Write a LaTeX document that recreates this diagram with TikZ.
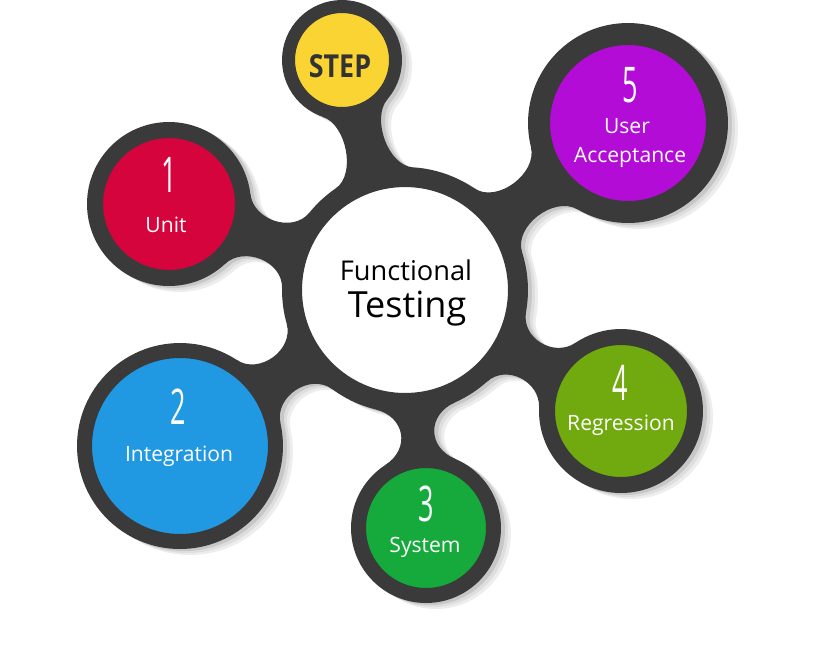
\documentclass[tikz,border=0pt]{standalone}
\usepackage{fontspec}
\setmainfont{Open Sans}
\usepackage{graphicx}
\usetikzlibrary{calc}

\definecolor{ringgray}{RGB}{58,58,58}
\definecolor{stepyellow}{RGB}{250,212,50}
\definecolor{unitred}{RGB}{213,4,60}
\definecolor{integblue}{RGB}{33,152,226}
\definecolor{sysgreen}{RGB}{22,170,60}
\definecolor{regrolive}{RGB}{112,170,14}
\definecolor{accpurple}{RGB}{178,12,214}
\definecolor{steptext}{RGB}{51,51,51}

\pgfdeclarelayer{shadow}
\pgfdeclarelayer{background}
\pgfsetlayers{shadow,background,main}

\tikzset{
  bubble/.style={circle, draw=ringgray, inner sep=0pt},
  numeral/.style={text=white, inner sep=0pt},
  caption/.style={text=white, anchor=base, inner sep=0pt, font=\fontsize{12}{14}\selectfont},
}

% thin tall step numbers
\newcommand\digit[1]{\scalebox{0.55}[1]{\fontsize{28}{28}\selectfont #1}}

% arm between hub and a satellite: hub angle, satellite angle, fillet pull
\newcommand\armfill[5]{%
  \fill let \p1=($(#2.center)-(#1.center)$), \n1={atan2(\y1,\x1)},
      \p2=($(#1.north)-(#1.center)$), \p3=($(#2.north)-(#2.center)$) in
    ($(#1.center)+(\n1+#3:\y2)$)
      .. controls ($(#1.center)+(\n1+#3:\y2)+(\n1+#3-90:#5)$)
      and ($(#2.center)+(\n1+180-#4:\y3)+(\n1-90-#4:#5)$)
      .. ($(#2.center)+(\n1+180-#4:\y3)$)
    -- ($(#2.center)+(\n1+180+#4:\y3)$)
      .. controls ($(#2.center)+(\n1+180+#4:\y3)+(\n1+90+#4:#5)$)
      and ($(#1.center)+(\n1-#3:\y2)+(\n1-#3+90:#5)$)
      .. ($(#1.center)+(\n1-#3:\y2)$) -- cycle;}

% outer disc of a bubble (for the shadow)
\newcommand\discfill[1]{%
  \fill let \p1=($(#1.north)-(#1.center)$) in (#1.center) circle (\y1);}

\newcommand\armsfill{%
  \armfill{hub}{step}{19}{34}{0.50cm}
  \armfill{hub}{unit}{19}{27}{0.53cm}
  \armfill{hub}{accept}{19}{23}{0.55cm}
  \armfill{hub}{integ}{19}{22}{0.55cm}
  \armfill{hub}{system}{19}{28}{0.61cm}
  \armfill{hub}{regr}{19}{27}{0.53cm}}

\newcommand\blobfill{%
  \armsfill
  \discfill{hub}\discfill{step}\discfill{unit}\discfill{accept}
  \discfill{integ}\discfill{system}\discfill{regr}}

\begin{document}
\begin{tikzpicture}[x=0.02cm, y=-0.02cm]
  \useasboundingbox (0,0) rectangle (820,664);

  % hub
  \node[bubble, fill=white, minimum size=4.52cm, line width=0.40cm] (hub) at (405,290) {};
  % satellites
  \node[bubble, fill=stepyellow, minimum size=2.14cm, line width=0.26cm] (step) at (342,60) {};
  \node[bubble, fill=unitred, minimum size=2.96cm, line width=0.32cm] (unit) at (169,204) {};
  \node[bubble, fill=integblue, minimum size=3.82cm, line width=0.30cm] (integ) at (180,446) {};
  \node[bubble, fill=sysgreen, minimum size=2.70cm, line width=0.30cm] (system) at (426,528) {};
  \node[bubble, fill=regrolive, minimum size=2.96cm, line width=0.32cm] (regr) at (621,411) {};
  \node[bubble, fill=accpurple, minimum size=3.56cm, line width=0.44cm] (accept) at (628,123) {};

  % arms behind the bubbles
  \begin{pgfonlayer}{background}
    \begin{scope}[ringgray]
      \armsfill
    \end{scope}
  \end{pgfonlayer}

  % soft drop shadow
  \begin{pgfonlayer}{shadow}
    \begin{scope}[transform canvas={shift={(10,6)}}, black!7]
      \blobfill
    \end{scope}
    \begin{scope}[transform canvas={shift={(7,4)}}, black!13]
      \blobfill
    \end{scope}
    \begin{scope}[transform canvas={shift={(4,2)}}, black!22]
      \blobfill
    \end{scope}
  \end{pgfonlayer}

  % hub text
  \node[anchor=base, inner sep=0pt, font=\fontsize{15.5}{18}\selectfont] (hubtop) at ($(hub.center)+(1,-10)$) {Functional};
  \node[anchor=base, inner sep=0pt, font=\fontsize{20.5}{24}\selectfont] (hubbot) at ($(hub.center)+(2,27)$) {Testing};

  % step badge
  \node[anchor=base, inner sep=0pt, text=steptext, font=\fontsize{18}{20}\selectfont\bfseries] (steptxt) at ($(step.center)+(-2,17)$) {\scalebox{0.85}[1]{STEP}};

  % numbers
  \node[numeral] (unitno) at ($(unit.center)+(0,-29)$) {\digit{1}};
  \node[numeral] (integno) at ($(integ.center)+(-2,-39)$) {\digit{2}};
  \node[numeral] (systemno) at ($(system.center)+(0,-24)$) {\digit{3}};
  \node[numeral] (regrno) at ($(regr.center)+(-1,-28)$) {\digit{4}};
  \node[numeral] (acceptno) at ($(accept.center)+(2,-38)$) {\digit{5}};

  % names
  \node[caption] (unitname) at ($(unit.center)+(-3,28)$) {Unit};
  \node[caption] (integname) at ($(integ.center)+(-1,15)$) {Integration};
  \node[caption] (systemname) at ($(system.center)+(-1,24)$) {System};
  \node[caption] (regrname) at ($(regr.center)+(0,19)$) {Regression};
  \node[caption] (username) at ($(accept.center)+(-1,10)$) {User};
  \node[caption] (acceptname) at ($(accept.center)+(2,39)$) {Acceptance};
\end{tikzpicture}
\end{document}
